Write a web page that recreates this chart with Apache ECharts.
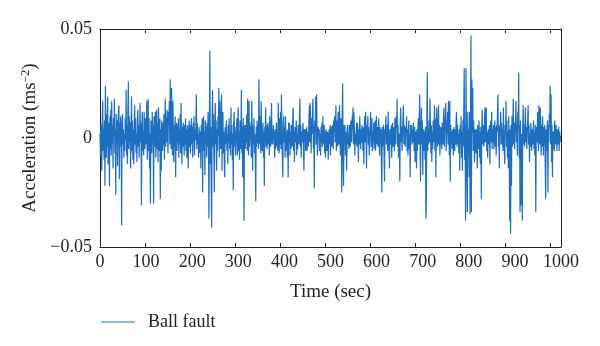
<!DOCTYPE html>
<html>
<head>
<meta charset="utf-8">
<script src="https://cdn.jsdelivr.net/npm/echarts@6/dist/echarts.min.js"></script>
<style>
  html, body { margin: 0; padding: 0; background: #fff; }
  #chart { width: 600px; height: 346px; }
</style>
</head>
<body>
<div id="chart"></div>
<script>
// Ball-fault vibration record, one sample per second (units: 1e-3 m/s^2)
const accelMilli = [
  2,-8,6,-3,-15,9,17,-6,4,-10,8,-22,24,3,-9,11,
  -4,19,-12,7,2,-22,10,-5,13,-8,17,-3,6,-14,9,1,
  18,-7,4,-26,11,-2,8,-13,5,12,15,-19,7,-4,10,2,
  -40,6,11,-3,4,-9,2,-6,9,-1,22,-8,6,-12,14,26,
  -5,10,-2,7,-14,3,19,-6,8,-10,4,-12,6,15,-3,9,
  -7,2,-11,8,13,-4,6,-9,3,16,-2,7,-31,5,12,-6,
  3,-8,12,1,-5,9,-3,6,17,-10,4,18,-6,9,-14,2,
  -30,8,3,-7,12,-2,6,-30,10,-4,5,12,-9,2,13,-5,
  7,-11,14,1,-6,9,-28,4,-15,8,2,-6,7,-3,11,-10,
  5,18,-4,9,-2,13,4,-7,12,6,17,-3,27,8,-5,23,
  9,-8,17,2,-11,6,-4,10,-18,3,7,-6,6,-2,9,-9,
  4,-3,11,-7,16,2,-12,5,-4,7,1,-8,6,-3,9,-6,
  4,-9,6,2,-14,3,8,-4,6,-7,2,9,-3,5,-9,7,
  -2,10,-8,4,-1,6,20,-5,7,-3,2,-9,5,1,-7,3,
  -14,6,-3,9,-25,4,10,-6,3,-17,8,-2,5,-9,7,-4,
  12,-6,-37,8,40,-12,5,-20,-41,9,22,-4,11,-8,-25,6,
  16,-3,8,-15,4,-6,10,1,23,-9,17,4,-5,12,20,-15,
  6,12,-7,3,-10,-18,5,-3,4,8,-6,2,-12,6,-2,9,
  -5,3,-8,14,-3,6,-10,2,-24,7,12,-4,5,-8,3,-2,
  9,-8,4,14,-6,3,-10,8,1,-5,22,-7,5,-18,9,-3,
  -38,6,2,-5,6,-2,11,-6,18,3,-8,17,-4,7,-1,5,
  -9,17,4,-15,6,-3,9,-7,2,-11,-29,5,-4,8,-2,6,
  -5,27,6,-3,10,-7,17,2,-6,0,7,-9,3,-22,5,-2,
  14,-4,6,-5,2,7,-3,5,-8,10,1,-4,6,16,-3,4,
  -3,6,-1,3,-9,4,-5,1,7,-4,3,-6,16,2,-7,9,
  -3,12,-5,20,4,-8,-18,6,10,-2,5,-9,10,2,-6,3,
  -9,4,-18,7,-2,7,-8,3,-5,6,1,-4,9,14,-6,3,
  -11,5,-2,3,8,-8,2,-5,6,1,-3,9,18,-4,6,-9,
  3,-2,3,7,-6,-15,4,-1,4,-6,2,5,-6,3,1,-4,
  7,15,-2,16,4,-7,9,2,12,18,-5,6,-23,8,3,19,
  -3,20,6,-8,-3,5,1,4,-6,2,-8,5,-2,7,-4,10,
  2,-3,6,-7,3,-9,4,1,-6,3,1,-10,2,4,-3,6,
  -8,2,5,-4,6,1,-5,8,3,10,-2,5,15,-6,8,2,
  -4,12,6,-3,15,2,-8,9,4,-25,10,25,-8,-22,6,-2,
  6,-8,3,-5,-15,4,6,-3,2,-5,6,1,-4,8,3,-2,
  10,4,14,-3,12,5,-8,2,-3,3,7,-4,7,2,-11,4,
  -3,10,2,-5,4,-2,6,1,-6,5,-12,3,10,-2,12,4,
  -14,6,2,10,-3,5,-8,3,1,12,-4,6,9,-6,3,-2,
  7,-5,4,8,-6,2,10,-3,5,1,-4,9,2,-8,5,-2,
  4,-10,-25,5,3,-4,6,-8,-20,4,2,10,-3,6,0,-6,
  12,3,-5,-14,4,1,-3,6,-9,2,7,-4,5,1,-6,9,
  3,-3,10,5,18,-4,6,-9,2,-5,-20,8,14,-2,5,-6,
  3,9,15,-3,6,1,-4,5,2,10,-6,4,-8,3,8,-5,
  2,-18,6,1,6,-3,4,-2,7,3,-6,5,-11,3,-2,-14,
  4,-6,4,9,-3,7,20,-5,-20,6,14,-3,8,-17,2,4,
  -6,3,-10,5,-37,-28,10,30,-6,4,-3,8,-2,18,5,-7,
  6,-11,3,-5,8,-2,4,15,-6,9,-18,3,14,2,-4,6,
  15,-3,6,-8,2,5,0,-5,7,2,-3,10,14,-4,9,3,
  16,-6,8,2,12,-3,17,4,-8,17,-20,6,-2,3,-5,4,
  2,-8,5,1,-6,4,-3,8,12,-4,6,-3,2,-7,4,-15,
  6,-3,10,-9,3,-15,8,-4,12,32,-10,6,-38,32,5,-18,
  -34,12,-8,4,-18,12,-35,8,47,-34,27,2,23,-6,8,-2,
  -11,4,2,-7,4,-3,-14,6,1,-5,8,-9,3,-12,5,-28,
  4,13,-3,6,0,-4,7,14,-2,5,14,-6,3,-9,2,4,
  -3,6,-12,3,8,-2,12,-5,4,-2,6,-5,3,8,-4,5,
  -8,6,3,12,20,-4,6,-14,5,2,12,-3,7,-3,4,-6,
  14,3,-5,-12,6,2,17,-4,8,-9,3,-14,10,-6,-38,4,
  -44,6,-22,10,-4,6,18,-3,7,-5,4,9,17,-2,6,-8,
  12,4,30,-9,6,-34,8,-31,2,-10,-38,5,15,-3,6,-4,
  6,14,-2,5,-5,3,8,15,-3,6,-11,2,-4,7,1,-6,
  4,-3,2,8,-5,3,-8,6,-34,3,5,-2,12,4,-6,15,
  8,-3,14,4,-8,6,-4,10,2,-8,5,-3,6,-14,-28,4,
  -6,4,8,-25,6,-2,11,5,24,-3,20,-11,6,-18,3,-5,
  3,-6,8,3,-3,6,0,-6,4,2,-3,5,-6,3,-2,1
];

const seriesName = 'Ball fault';
// tick marks follow the sample axis (0..1024 s); the printed labels run 0..1000 across the frame
const xTicks = { min: 0, max: 1024, step: 100 };
const xLabels = { min: 0, max: 1000, step: 100 };
const yTicks = { min: -0.05, max: 0.05, step: 0.05 };

// [time (s), acceleration (m/s^2)] pairs
const points = accelMilli.map((v, i) => [i, v / 1000]);

const FONT = 'Liberation Serif';
const INK = '#231f20';
const BLUE = '#1f6fc0';

const chart = echarts.init(document.getElementById('chart'), null, { renderer: 'canvas' });

const axisLineStyle = { show: true, onZero: false, lineStyle: { color: INK, width: 1 } };
const tickStyle = { show: true, inside: true, length: 4, lineStyle: { color: INK, width: 1 } };

chart.setOption({
  animation: false,
  backgroundColor: '#ffffff',
  grid: { left: 100, right: 39, top: 29, bottom: 99, containLabel: false },
  legend: {
    data: [seriesName],
    left: 96,
    top: 308,
    itemWidth: 34,
    itemHeight: 10,
    textStyle: { fontFamily: FONT, fontSize: 18, color: INK, padding: [0, 0, 0, 8] },
    icon: 'path://M0,0 L34,0 L34,1.2 L0,1.2 Z',
    itemStyle: { color: BLUE }
  },
  xAxis: [
    {
      type: 'value',
      min: xTicks.min, max: xTicks.max, interval: xTicks.step,
      axisLine: axisLineStyle,
      axisTick: tickStyle,
      axisLabel: { show: false },
      splitLine: { show: false }
    },
    {
      type: 'value', position: 'top',
      min: xTicks.min, max: xTicks.max, interval: xTicks.step,
      axisLine: axisLineStyle,
      axisTick: tickStyle,
      axisLabel: { show: false },
      splitLine: { show: false }
    },
    {
      type: 'value', position: 'bottom',
      min: xLabels.min, max: xLabels.max, interval: xLabels.step,
      name: 'Time (sec)',
      nameLocation: 'middle',
      nameGap: 36,
      nameTextStyle: { fontFamily: FONT, fontSize: 19, color: INK },
      axisLine: { show: false, onZero: false },
      axisTick: { show: false },
      axisLabel: {
        fontFamily: FONT, fontSize: 18, color: INK, margin: 6,
        formatter: v => String(v)
      },
      splitLine: { show: false }
    }
  ],
  yAxis: [
    {
      type: 'value',
      min: yTicks.min, max: yTicks.max, interval: yTicks.step,
      name: 'Acceleration (ms{sup|−2})',
      nameLocation: 'middle',
      nameGap: 54,
      nameRotate: 90,
      nameTextStyle: {
        fontFamily: FONT, fontSize: 19, color: INK,
        rich: { sup: { fontFamily: FONT, fontSize: 12, color: INK, verticalAlign: 'top', padding: [0, 0, 8, 0] } }
      },
      axisLine: axisLineStyle,
      axisTick: tickStyle,
      axisLabel: {
        fontFamily: FONT, fontSize: 18, color: INK, margin: 8,
        formatter: v => (v === 0 ? '0' : (v < 0 ? '−' + Math.abs(v).toFixed(2) : v.toFixed(2)))
      },
      splitLine: { show: false }
    },
    {
      type: 'value', position: 'right',
      min: yTicks.min, max: yTicks.max, interval: yTicks.step,
      axisLine: axisLineStyle,
      axisTick: tickStyle,
      axisLabel: { show: false },
      splitLine: { show: false }
    }
  ],
  series: [
    {
      name: seriesName,
      type: 'line',
      data: points,
      xAxisIndex: 0,
      yAxisIndex: 0,
      showSymbol: false,
      symbol: 'none',
      lineStyle: { color: BLUE, width: 1.2 },
      itemStyle: { color: BLUE },
      sampling: null
    }
  ]
});
</script>
</body>
</html>
